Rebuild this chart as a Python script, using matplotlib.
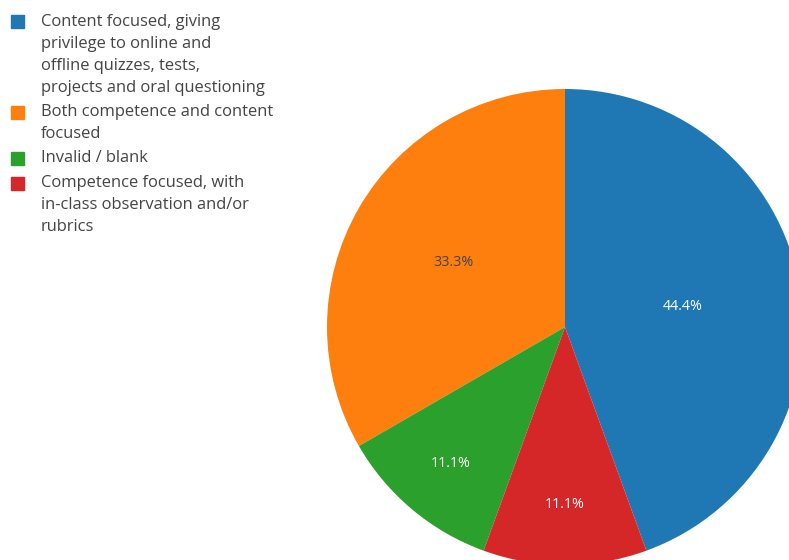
import numpy as np
import matplotlib.pyplot as plt
from matplotlib.patches import Rectangle

# assessment approach shares (n = 9 responses)
categories = [
    "Content focused, giving\nprivilege to online and\noffline quizzes, tests,\nprojects and oral questioning",
    "Both competence and content\nfocused",
    "Invalid / blank",
    "Competence focused, with\nin-class observation and/or\nrubrics",
]
counts = [4, 3, 1, 1]
colors = ["#1f77b4", "#ff7f0e", "#2ca02c", "#d62728"]
label_colors = ["white", "#444444", "white", "white"]
label_radius = [0.50, 0.54, 0.75, 0.745]

W, H = 789, 560
plt.rcParams["font.family"] = ["Open Sans", "DejaVu Sans"]

fig = plt.figure(figsize=(W / 100, H / 100), dpi=100)
ax = fig.add_axes([0, 0, 1, 1])

cx, cy, r = 565, H - 327, 238
wedges, _, autotexts = ax.pie(
    counts,
    colors=colors,
    startangle=-70,
    counterclock=True,
    center=(cx, cy),
    radius=r,
    autopct="%.1f%%",
    textprops={"fontsize": 10.3},
    wedgeprops={"linewidth": 0},
)

for w, t, frac, col in zip(wedges, autotexts, label_radius, label_colors):
    mid = np.deg2rad((w.theta1 + w.theta2) / 2)
    t.set_position((cx + frac * r * np.cos(mid), cy + frac * r * np.sin(mid)))
    t.set_color(col)
    t.set_ha("center")
    t.set_va("center")

ax.set_xlim(0, W)
ax.set_ylim(0, H)
ax.set_aspect("equal")
ax.axis("off")

# legend drawn by hand so the swatch sits on the first line of each entry
line_h = 22
y = 21.5
for label, col in zip(categories, colors):
    lines = label.split("\n")
    ax.add_patch(Rectangle((11, H - y - 6.5), 13, 13, color=col, zorder=3))
    for k, line in enumerate(lines):
        ax.text(41, H - (y + k * line_h), line, fontsize=11.9, color="#444444",
                ha="left", va="center")
    y += len(lines) * line_h + 2.5

fig.savefig("out.png", dpi=100)
